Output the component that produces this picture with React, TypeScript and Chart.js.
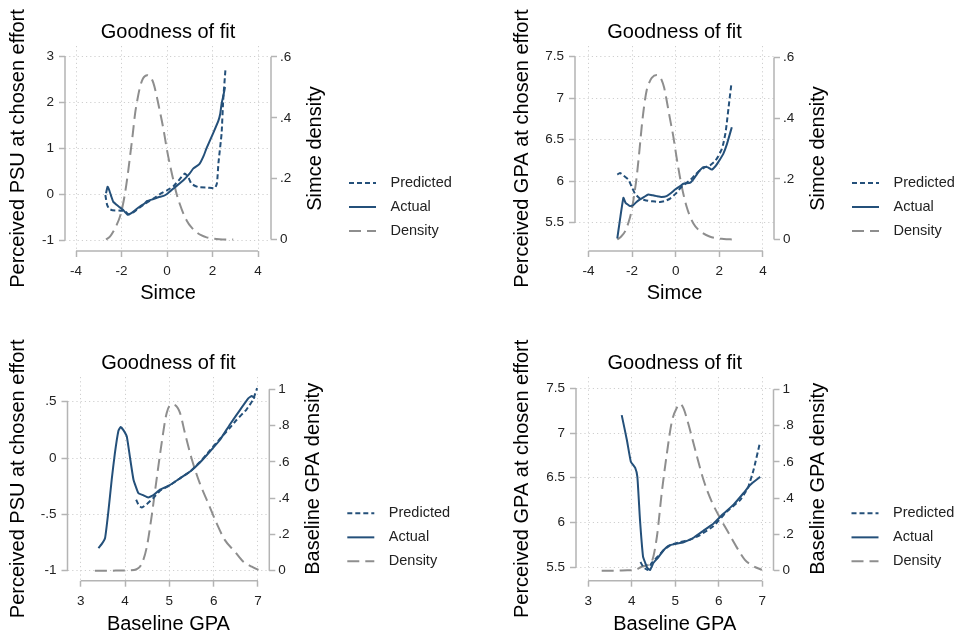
import React, { useEffect, useRef } from "react";
import { Chart, registerables } from "chart.js";

Chart.register(...registerables);

const FONT = "'Liberation Sans', Arial, Helvetica, sans-serif";
const NAVY = "#24507a";
const DENSITY_GRAY = "#8e8e8e";
const AXIS = "#b4b4b4";
const GRID = "#cfcfcf";
const TEXT = "#222222";

// ---------- tick labels ----------
const simceTicks = [-4, -2, 0, 2, 4];
const baselineGpaTicks = [3, 4, 5, 6, 7];
const psuTicksTop = [-1, 0, 1, 2, 3];
const psuTicksBottom = [-1, -0.5, 0, 0.5];
const gpaTicks = [5.5, 6, 6.5, 7, 7.5];
const simceDensityTicks = [0, 0.2, 0.4, 0.6];
const gpaDensityTicks = [0, 0.2, 0.4, 0.6, 0.8, 1];

const seriesNames = ["Predicted", "Actual", "Density"];

// ---------- Panel 1: PSU vs Simce ----------
const p1ActualX = [-2.68, -2.61, -2.55, -2.45, -2.36, -2.2, -2.07, -1.9, -1.73, -1.55, -1.35, -1.19, -1.0, -0.87, -0.6, -0.38, -0.15, 0.0, 0.35, 0.72, 1.0, 1.16, 1.42, 1.6, 1.74, 2.04, 2.26, 2.34, 2.4, 2.48, 2.55];
const p1ActualY = [0.02, 0.16, 0.1, -0.05, -0.17, -0.24, -0.29, -0.36, -0.45, -0.41, -0.33, -0.27, -0.21, -0.15, -0.11, -0.07, -0.04, 0.0, 0.15, 0.3, 0.45, 0.56, 0.65, 0.82, 1.0, 1.34, 1.6, 1.75, 1.97, 2.15, 2.33];
const p1PredX = [-2.71, -2.64, -2.55, -2.4, -2.1, -1.85, -1.7, -1.55, -1.33, -1.0, -0.6, -0.31, 0.0, 0.28, 0.5, 0.79, 0.95, 1.08, 1.38, 1.8, 2.11, 2.2, 2.26, 2.4, 2.47, 2.57];
const p1PredY = [-0.02, -0.22, -0.32, -0.35, -0.36, -0.37, -0.44, -0.42, -0.34, -0.22, -0.1, 0.0, 0.08, 0.17, 0.29, 0.45, 0.35, 0.22, 0.15, 0.14, 0.13, 0.25, 0.67, 1.32, 2.05, 2.72];
const p1DensX = [-2.68, -2.5, -2.36, -2.2, -2.07, -1.95, -1.85, -1.75, -1.63, -1.5, -1.41, -1.3, -1.19, -1.05, -0.87, -0.75, -0.6, -0.45, -0.31, -0.15, -0.015, 0.13, 0.28, 0.42, 0.57, 0.72, 0.87, 1.05, 1.3, 1.5, 1.74, 2.0, 2.3, 2.91];
const p1DensY = [0, 0.01, 0.026, 0.05, 0.075, 0.11, 0.15, 0.2, 0.27, 0.35, 0.41, 0.46, 0.5, 0.53, 0.54, 0.535, 0.515, 0.47, 0.42, 0.36, 0.3, 0.245, 0.195, 0.15, 0.115, 0.085, 0.062, 0.042, 0.024, 0.014, 0.007, 0.003, 0.001, 0];

// ---------- Panel 2: GPA vs Simce ----------
const p2ActualX = [-2.68, -2.55, -2.4, -2.3, -2.1, -1.95, -1.8, -1.64, -1.45, -1.26, -1.05, -0.87, -0.65, -0.42, -0.2, -0.03, 0.2, 0.35, 0.65, 0.8, 0.96, 1.1, 1.26, 1.45, 1.65, 1.82, 1.95, 2.18, 2.35, 2.57];
const p2ActualY = [5.31, 5.55, 5.8, 5.74, 5.7, 5.71, 5.75, 5.78, 5.81, 5.84, 5.83, 5.82, 5.81, 5.82, 5.86, 5.9, 5.94, 5.97, 5.98, 6.02, 6.08, 6.13, 6.17, 6.17, 6.14, 6.18, 6.23, 6.33, 6.45, 6.65];
const p2PredX = [-2.68, -2.56, -2.4, -2.17, -2.0, -1.87, -1.64, -1.4, -1.18, -0.95, -0.72, -0.5, -0.26, 0.0, 0.19, 0.4, 0.65, 0.9, 1.11, 1.35, 1.57, 1.8, 1.95, 2.1, 2.18, 2.28, 2.34, 2.45, 2.55];
const p2PredY = [6.08, 6.1, 6.07, 6.02, 5.92, 5.85, 5.79, 5.77, 5.76, 5.755, 5.75, 5.76, 5.79, 5.85, 5.91, 5.96, 6.01, 6.08, 6.13, 6.17, 6.19, 6.24, 6.3, 6.38, 6.45, 6.58, 6.7, 6.95, 7.17];
const p2DensX = [-2.68, -2.5, -2.33, -2.15, -2.02, -1.9, -1.79, -1.67, -1.56, -1.45, -1.33, -1.2, -1.1, -0.87, -0.75, -0.65, -0.53, -0.42, -0.27, -0.11, 0.04, 0.19, 0.35, 0.5, 0.65, 0.81, 1.0, 1.26, 1.55, 1.88, 2.2, 2.64];
const p2DensY = [0, 0.01, 0.026, 0.06, 0.097, 0.15, 0.207, 0.29, 0.372, 0.44, 0.493, 0.52, 0.533, 0.542, 0.537, 0.526, 0.5, 0.46, 0.4, 0.339, 0.27, 0.207, 0.15, 0.108, 0.077, 0.053, 0.035, 0.02, 0.01, 0.004, 0.002, 0];

// ---------- Panel 3: PSU vs Baseline GPA ----------
const p3ActualX = [3.4, 3.48, 3.55, 3.62, 3.7, 3.77, 3.85, 3.9, 3.96, 4.04, 4.11, 4.19, 4.3, 4.41, 4.52, 4.64, 4.79, 5.01, 5.24, 5.47, 5.69, 5.92, 6.14, 6.37, 6.6, 6.78, 6.86, 6.93];
const p3ActualY = [-0.8, -0.76, -0.71, -0.49, -0.19, 0.04, 0.24, 0.275, 0.25, 0.19, 0.01, -0.19, -0.31, -0.33, -0.35, -0.33, -0.28, -0.24, -0.18, -0.12, -0.04, 0.06, 0.16, 0.3, 0.43, 0.53, 0.55, 0.53];
const p3PredX = [4.25, 4.31, 4.38, 4.49, 4.64, 4.79, 5.0, 5.24, 5.47, 5.69, 5.92, 6.14, 6.37, 6.52, 6.74, 6.89, 6.98];
const p3PredY = [-0.37, -0.42, -0.44, -0.41, -0.355, -0.29, -0.245, -0.18, -0.12, -0.035, 0.07, 0.17, 0.27, 0.34, 0.43, 0.52, 0.62];
const p3DensX = [3.32, 3.6, 3.9, 4.1, 4.26, 4.38, 4.49, 4.6, 4.71, 4.83, 4.94, 5.05, 5.13, 5.24, 5.35, 5.5, 5.69, 5.88, 6.07, 6.25, 6.48, 6.67, 6.86, 7.01];
const p3DensY = [0, 0, 0.001, 0.002, 0.008, 0.04, 0.13, 0.3, 0.5, 0.71, 0.87, 0.917, 0.913, 0.87, 0.76, 0.62, 0.48, 0.37, 0.26, 0.17, 0.105, 0.05, 0.022, 0.004];

// ---------- Panel 4: GPA vs Baseline GPA ----------
const p4ActualX = [3.77, 3.89, 3.98, 4.08, 4.13, 4.19, 4.26, 4.31, 4.36, 4.42, 4.5, 4.61, 4.73, 4.84, 5.0, 5.19, 5.42, 5.65, 5.88, 6.11, 6.34, 6.57, 6.72, 6.95];
const p4ActualY = [7.2, 6.92, 6.68, 6.61, 6.51, 6.03, 5.62, 5.55, 5.49, 5.47, 5.55, 5.61, 5.69, 5.74, 5.76, 5.78, 5.83, 5.91, 5.99, 6.1, 6.2, 6.33, 6.42, 6.51];
const p4PredX = [4.2, 4.27, 4.36, 4.46, 4.6, 4.75, 4.9, 5.11, 5.35, 5.57, 5.88, 6.18, 6.49, 6.6, 6.68, 6.8, 6.94];
const p4PredY = [5.56, 5.5, 5.47, 5.55, 5.62, 5.7, 5.75, 5.78, 5.81, 5.86, 5.96, 6.12, 6.25, 6.33, 6.4, 6.59, 6.88];
const p4DensX = [3.31, 3.6, 3.9, 4.08, 4.23, 4.35, 4.46, 4.58, 4.69, 4.81, 4.92, 5.04, 5.11, 5.19, 5.3, 5.46, 5.65, 5.84, 6.03, 6.22, 6.41, 6.6, 6.76, 6.99];
const p4DensY = [0, 0, 0.002, 0.004, 0.022, 0.03, 0.05, 0.19, 0.43, 0.65, 0.82, 0.9, 0.92, 0.895, 0.81, 0.665, 0.5, 0.38, 0.29, 0.21, 0.13, 0.06, 0.03, 0.004];

const pts = (xs: number[], ys: number[]) => xs.map((x, i) => ({ x, y: ys[i] }));

const stataFmt = (v: number) => {
  const r = Math.round(v * 1000) / 1000;
  let s = String(r);
  if (s.startsWith("0.")) s = s.slice(1);
  else if (s.startsWith("-0.")) s = "-" + s.slice(2);
  return s;
};

const decorPlugin = {
  id: "decor",
  afterDraw(chart: any, _args: any, opts: any) {
    const { ctx, chartArea: ca, scales } = chart;
    ctx.save();
    ctx.strokeStyle = AXIS;
    ctx.lineWidth = 1.5;
    ctx.setLineDash([]);
    const x = scales.x;
    const xt = x.ticks;
    ctx.beginPath();
    ctx.moveTo(x.getPixelForValue(xt[0].value), ca.bottom);
    ctx.lineTo(x.getPixelForValue(xt[xt.length - 1].value), ca.bottom);
    const y = scales.y;
    const yt = y.ticks;
    ctx.moveTo(ca.left, y.getPixelForValue(yt[0].value));
    ctx.lineTo(ca.left, y.getPixelForValue(yt[yt.length - 1].value));
    const y2 = scales.y2;
    const y2t = y2.ticks;
    ctx.moveTo(ca.right, y2.getPixelForValue(y2t[0].value));
    ctx.lineTo(ca.right, y2.getPixelForValue(y2t[y2t.length - 1].value));
    ctx.stroke();

    const mid = (ca.top + ca.bottom) / 2;
    // right axis title, reading bottom to top
    ctx.save();
    ctx.translate(ca.right + 44.5, mid);
    ctx.rotate(-Math.PI / 2);
    ctx.fillStyle = "#000";
    ctx.font = `20px ${FONT}`;
    ctx.textAlign = "center";
    ctx.textBaseline = "middle";
    ctx.fillText(opts.y2Title, 0, 0);
    ctx.restore();

    // legend
    const ds = chart.data.datasets;
    ctx.font = `14.5px ${FONT}`;
    ctx.textAlign = "left";
    ctx.textBaseline = "middle";
    ds.forEach((d: any, i: number) => {
      const ly = mid + 34.5 + 24 * i;
      ctx.beginPath();
      ctx.strokeStyle = d.borderColor;
      ctx.lineWidth = d.borderWidth;
      ctx.setLineDash(d.borderDash || []);
      ctx.moveTo(ca.right + 78, ly);
      ctx.lineTo(ca.right + 105, ly);
      ctx.stroke();
      ctx.setLineDash([]);
      ctx.fillStyle = TEXT;
      ctx.fillText(d.label, ca.right + 119.5, ly);
    });
    ctx.restore();
  },
};

type Spec = {
  left: number; top: number; width: number; height: number;
  area: { l: number; r: number; t: number; b: number };
  titleMid: number; yTitleMid: number; xTitleMid: number;
  xRange: [number, number]; yRange: [number, number]; y2Range: [number, number];
  xTicks: number[]; yTicks: number[]; y2Ticks: number[];
  xTitle: string; yTitle: string; y2Title: string;
  pred: [number[], number[]]; actual: [number[], number[]]; dens: [number[], number[]];
};

const specs: Spec[] = [
  {
    left: 0, top: 0, width: 478, height: 317,
    area: { l: 65, r: 271, t: 46, b: 251 },
    titleMid: 32.7, yTitleMid: 18.5, xTitleMid: 293.5,
    xRange: [-4.4835, 4.571], yRange: [-1.2395, 3.224], y2Range: [-0.0378, 0.636],
    xTicks: simceTicks, yTicks: psuTicksTop, y2Ticks: simceDensityTicks,
    xTitle: "Simce", yTitle: "Perceived PSU at chosen effort", y2Title: "Simce density",
    pred: [p1PredX, p1PredY], actual: [p1ActualX, p1ActualY], dens: [p1DensX, p1DensY],
  },
  {
    left: 478, top: 0, width: 479, height: 317,
    area: { l: 97, r: 296, t: 46, b: 251 },
    titleMid: 32.7, yTitleMid: 44, xTitleMid: 293.5,
    xRange: [-4.619, 4.505], yRange: [5.159, 7.629], y2Range: [-0.0379, 0.638],
    xTicks: simceTicks, yTicks: gpaTicks, y2Ticks: simceDensityTicks,
    xTitle: "Simce", yTitle: "Perceived GPA at chosen effort", y2Title: "Simce density",
    pred: [p2PredX, p2PredY], actual: [p2ActualX, p2ActualY], dens: [p2DensX, p2DensY],
  },
  {
    left: 0, top: 317, width: 478, height: 317,
    area: { l: 67.5, r: 269.3, t: 60, b: 263.7 },
    titleMid: 46.3, yTitleMid: 18.3, xTitleMid: 307,
    xRange: [2.702, 7.255], yRange: [-1.0888, 0.719], y2Range: [-0.0551, 1.068],
    xTicks: baselineGpaTicks, yTicks: psuTicksBottom, y2Ticks: gpaDensityTicks,
    xTitle: "Baseline GPA", yTitle: "Perceived PSU at chosen effort", y2Title: "Baseline GPA density",
    pred: [p3PredX, p3PredY], actual: [p3ActualX, p3ActualY], dens: [p3DensX, p3DensY],
  },
  {
    left: 478, top: 317, width: 479, height: 317,
    area: { l: 98, r: 295.5, t: 60, b: 263.7 },
    titleMid: 46.3, yTitleMid: 44, xTitleMid: 307,
    xRange: [2.72, 7.257], yRange: [5.35, 7.626], y2Range: [-0.0551, 1.068],
    xTicks: baselineGpaTicks, yTicks: gpaTicks, y2Ticks: gpaDensityTicks,
    xTitle: "Baseline GPA", yTitle: "Perceived GPA at chosen effort", y2Title: "Baseline GPA density",
    pred: [p4PredX, p4PredY], actual: [p4ActualX, p4ActualY], dens: [p4DensX, p4DensY],
  },
];

function Panel({ spec }: { spec: Spec }) {
  const ref = useRef<HTMLCanvasElement | null>(null);
  useEffect(() => {
    if (!ref.current) return;
    const s = spec;
    const tickFont = { size: 13.5, family: FONT };
    const titleFont = { size: 20, family: FONT, weight: "normal" as const };
    const fitLine = { pointRadius: 0, borderWidth: 2, fill: false, tension: 0.12 };
    const densLine = { pointRadius: 0, borderWidth: 2, fill: false, tension: 0, cubicInterpolationMode: "monotone" as const };
    const titleTop = s.titleMid - 12;
    const chart = new Chart(ref.current, {
      type: "line",
      data: {
        datasets: [
          { ...fitLine, label: seriesNames[0], data: pts(s.pred[0], s.pred[1]), yAxisID: "y", borderColor: NAVY, borderDash: [5, 3] },
          { ...fitLine, label: seriesNames[1], data: pts(s.actual[0], s.actual[1]), yAxisID: "y", borderColor: NAVY, borderDash: [] },
          { ...densLine, label: seriesNames[2], data: pts(s.dens[0], s.dens[1]), yAxisID: "y2", borderColor: DENSITY_GRAY, borderDash: [12, 6] },
        ],
      },
      options: {
        animation: false,
        responsive: false,
        events: [],
        layout: { padding: 0 },
        plugins: {
          legend: { display: false },
          tooltip: { enabled: false },
          title: {
            display: true,
            text: "Goodness of fit",
            fullSize: false,
            color: "#000",
            font: titleFont,
            padding: { top: titleTop, bottom: s.area.t - 24 - titleTop },
          },
          decor: { y2Title: s.y2Title },
        } as any,
        scales: {
          x: {
            type: "linear",
            position: "bottom",
            min: s.xRange[0],
            max: s.xRange[1],
            afterBuildTicks: (sc: any) => { sc.ticks = s.xTicks.map((v) => ({ value: v })); },
            afterFit: (sc: any) => { sc.height = s.height - s.area.b; },
            ticks: { autoSkip: false, maxRotation: 0, padding: 6, font: tickFont, color: TEXT, callback: (v: any) => stataFmt(Number(v)) },
            grid: { color: GRID, lineWidth: 1, drawTicks: true, tickLength: 6, tickColor: AXIS, tickWidth: 1.5 },
            border: { display: false, dash: [1.2, 3] },
            title: { display: true, text: s.xTitle, color: "#000", font: titleFont, padding: { top: 0, bottom: s.height - s.xTitleMid - 12 } },
          },
          y: {
            type: "linear",
            position: "left",
            min: s.yRange[0],
            max: s.yRange[1],
            afterBuildTicks: (sc: any) => { sc.ticks = s.yTicks.map((v) => ({ value: v })); },
            afterFit: (sc: any) => { sc.width = s.area.l; },
            ticks: { autoSkip: false, padding: 5, font: tickFont, color: TEXT, callback: (v: any) => stataFmt(Number(v)) },
            grid: { color: GRID, lineWidth: 1, drawTicks: true, tickLength: 6, tickColor: AXIS, tickWidth: 1.5 },
            border: { display: false, dash: [1.2, 3] },
            title: { display: true, text: s.yTitle, color: "#000", font: titleFont, padding: { top: s.yTitleMid - 12, bottom: 0 } },
          },
          y2: {
            type: "linear",
            position: "right",
            min: s.y2Range[0],
            max: s.y2Range[1],
            afterBuildTicks: (sc: any) => { sc.ticks = s.y2Ticks.map((v) => ({ value: v })); },
            afterFit: (sc: any) => { sc.width = s.width - s.area.r; },
            ticks: { autoSkip: false, padding: 3, font: tickFont, color: TEXT, callback: (v: any) => stataFmt(Number(v)) },
            grid: { drawOnChartArea: false, drawTicks: true, tickLength: 6, tickColor: AXIS, tickWidth: 1.5, color: GRID },
            border: { display: false },
            title: { display: false },
          },
        },
      } as any,
      plugins: [decorPlugin],
    });
    return () => chart.destroy();
  }, [spec]);
  return (
    <canvas
      ref={ref}
      width={spec.width}
      height={spec.height}
      style={{ position: "absolute", left: spec.left, top: spec.top, width: spec.width, height: spec.height }}
    />
  );
}

export default function App() {
  return (
    <div style={{ position: "absolute", left: 0, top: 0, width: 957, height: 634, background: "#fff", overflow: "hidden" }}>
      {specs.map((s, i) => (
        <Panel key={i} spec={s} />
      ))}
    </div>
  );
}
